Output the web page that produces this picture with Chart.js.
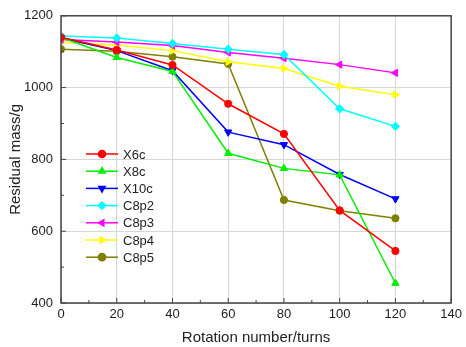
<!DOCTYPE html>
<html>
<head>
<meta charset="utf-8">
<script src="https://cdn.jsdelivr.net/npm/chart.js@4"></script>
<style>
  html, body { margin: 0; padding: 0; background: #fff; }
  #wrap { width: 466px; height: 347px; }
</style>
</head>
<body>
<div id="wrap"><canvas id="chart"></canvas></div>
<script>
// rotation numbers (turns)
const turns = [0, 20, 40, 60, 80, 100, 120];

// residual mass (g) per sample
const x6c  = [1140, 1105, 1063, 955, 871, 658, 545];
const x8c  = [1140, 1084, 1045, 817, 775, 757, 455];
const x10c = [1138, 1103, 1047, 876, 841, 758, 690];
const c8p2 = [1144, 1138, 1123, 1107, 1092, 941, 892];
const c8p3 = [1134, 1127, 1117, 1098, 1082, 1064, 1041];
const c8p4 = [1126, 1119, 1103, 1072, 1053, 1004, 980];
const c8p5 = [1107, 1101, 1086, 1066, 687, 657, 636];

const FONT = "'Liberation Sans', Arial, sans-serif";

// name, values, colour, marker, rotation
const series = [
  ["X6c",  x6c,  "#ff0000", "circle",   0],
  ["X8c",  x8c,  "#00ee00", "triangle", 0],
  ["X10c", x10c, "#0000ff", "triangle", 180],
  ["C8p2", c8p2, "#00ffff", "rectRot",  0],
  ["C8p3", c8p3, "#ff00ff", "triangle", -90],
  ["C8p4", c8p4, "#ffff00", "triangle", 90],
  ["C8p5", c8p5, "#808000", "circle",   0],
];

const datasets = series.map(([name, vals, col, style, rot]) => ({
  label: name,
  data: turns.map((t, i) => ({ x: t, y: vals[i] })),
  borderColor: col,
  backgroundColor: col,
  borderWidth: 1.5,
  pointStyle: style,
  pointRotation: rot,
  pointRadius: style === "circle" ? 3.6 : 4.2,
  pointBorderWidth: 1,
  tension: 0,
}));

// box around the plot + inward ticks
const frame = {
  id: "frame",
  afterDraw(chart) {
    const { ctx, chartArea: a, scales: { x, y } } = chart;
    ctx.save();
    ctx.strokeStyle = "#444";
    ctx.lineWidth = 1.5;
    ctx.strokeRect(a.left, a.top, a.right - a.left, a.bottom - a.top);
    ctx.lineWidth = 1;
    ctx.beginPath();
    for (let v = 0; v <= 140; v += 10) {
      const px = x.getPixelForValue(v);
      const len = v % 20 === 0 ? 5 : 3;
      ctx.moveTo(px, a.bottom); ctx.lineTo(px, a.bottom - len);
    }
    for (let v = 400; v <= 1200; v += 100) {
      const py = y.getPixelForValue(v);
      const len = v % 200 === 0 ? 5 : 3;
      ctx.moveTo(a.left, py); ctx.lineTo(a.left + len, py);
    }
    ctx.stroke();
    ctx.restore();
  }
};

// legend with line + marker, inside the plot
const lineLegend = {
  id: "lineLegend",
  afterDraw(chart) {
    const { ctx } = chart;
    ctx.save();
    ctx.font = "13px " + FONT;
    ctx.textBaseline = "middle";
    chart.data.datasets.forEach((ds, i) => {
      const yy = 154 + i * 17.2;
      ctx.strokeStyle = ds.borderColor;
      ctx.lineWidth = 1.5;
      ctx.beginPath();
      ctx.moveTo(86, yy); ctx.lineTo(118, yy);
      ctx.stroke();
      ctx.fillStyle = ds.backgroundColor;
      ctx.strokeStyle = ds.borderColor;
      Chart.helpers.drawPoint(ctx, {
        pointStyle: ds.pointStyle, rotation: ds.pointRotation,
        radius: 3.6, borderWidth: 1
      }, 102, yy);
      ctx.fillStyle = "#222";
      ctx.fillText(ds.label, 123, yy + 1);
    });
    ctx.restore();
  }
};

new Chart(document.getElementById("chart"), {
  type: "line",
  data: { datasets },
  options: {
    responsive: true,
    maintainAspectRatio: false,
    animation: false,
    layout: { padding: { top: 15, right: 11, left: 0, bottom: 0 } },
    plugins: { legend: { display: false }, tooltip: { enabled: false } },
    scales: {
      x: {
        type: "linear",
        min: 0, max: 140,
        ticks: { stepSize: 20, color: "#222", font: { family: FONT, size: 13 }, padding: 4, callback: v => v },
        grid: { color: "#d6d6d6", drawTicks: false },
        border: { display: false },
        title: { display: true, text: "Rotation number/turns", color: "#222", font: { family: FONT, size: 15 }, padding: { top: 4, bottom: 0 } },
        afterFit(s) { s.height = 44; },
      },
      y: {
        min: 400, max: 1200,
        ticks: { stepSize: 200, color: "#222", font: { family: FONT, size: 13 }, padding: 8, callback: v => v },
        grid: { color: "#d6d6d6", drawTicks: false },
        border: { display: false },
        title: { display: true, text: "Residual mass/g", color: "#222", font: { family: FONT, size: 15 }, padding: { top: 7, bottom: 7 } },
        afterFit(s) { s.width = 61; },
      }
    }
  },
  plugins: [frame, lineLegend]
});
</script>
</body>
</html>
